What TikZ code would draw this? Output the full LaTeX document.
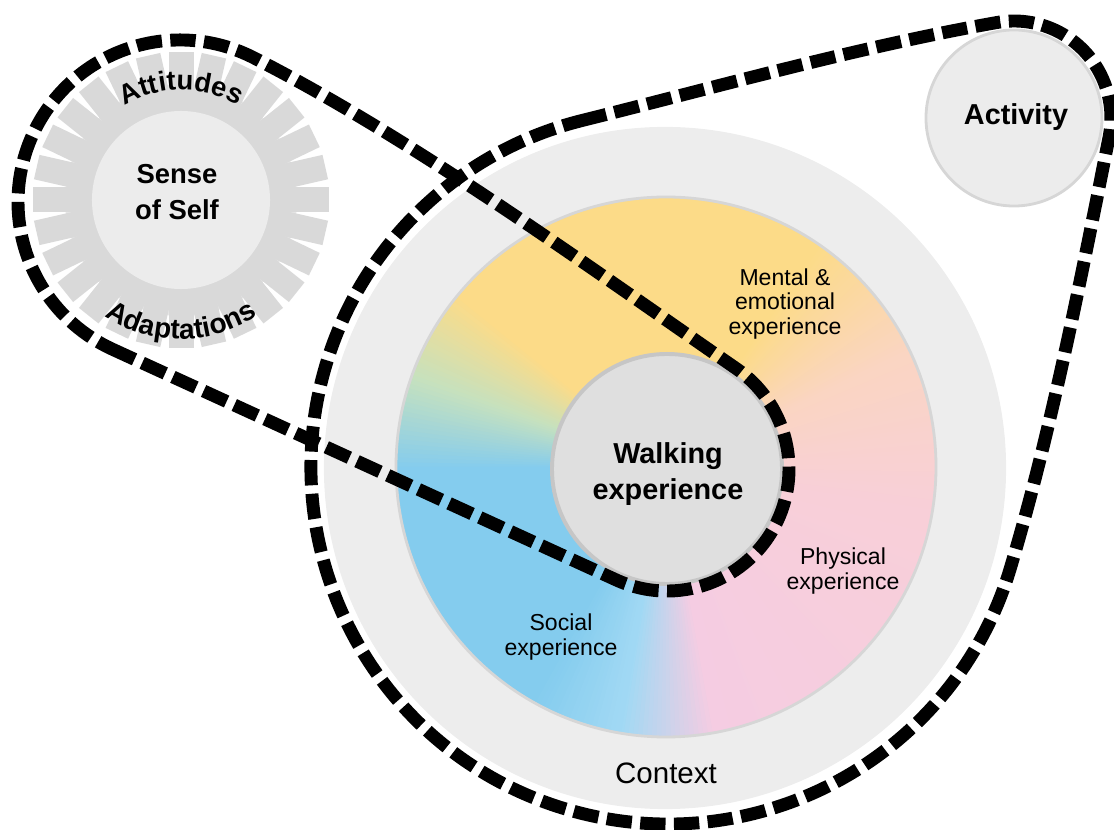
\documentclass[tikz,border=0pt]{standalone}
\usepackage{fontspec}
\setmainfont{Liberation Sans}
\usetikzlibrary{calc,decorations.text}

\definecolor{ctxgray}{HTML}{EDEDED}
\definecolor{rimgray}{HTML}{D6D6D6}
\definecolor{hubgray}{HTML}{DFDFDF}
\definecolor{hubrim}{HTML}{C6C6C6}
\definecolor{seggray}{HTML}{D9D9D9}
\definecolor{gapgray}{HTML}{E6E6E6}
\definecolor{selfgray}{HTML}{ECECEC}
\definecolor{blueA}{HTML}{84CCEE}
\definecolor{blueB}{HTML}{A2D9F4}
\definecolor{pinkA}{HTML}{F5CCE2}
\definecolor{pinkB}{HTML}{F8CFD8}
\definecolor{peachA}{HTML}{FAD5C2}
\definecolor{yellowA}{HTML}{FCDB88}
\definecolor{greenA}{HTML}{C6E1BE}

\tikzset{
  bubble/.style={circle, inner sep=0pt},
  bigtext/.style={align=center, font=\bfseries\fontsize{20.5}{26}\selectfont},
  sublabel/.style={align=center, font=\fontsize{16.4}{17.5}\selectfont},
  dashring/.style={line width=9.2pt, dash pattern=on 18pt off 6pt},
}

\begin{document}
\begin{tikzpicture}[x=0.025cm,y=0.025cm]
	\useasboundingbox (0,0) rectangle (1114,830);
	\clip (0,0) rectangle (1114,830);
	\coordinate (M) at (666,363);
	\coordinate (S) at (181,630);
	\coordinate (S2) at (180,628);
	\coordinate (W2) at (667,361);
	\coordinate (C2) at (668,363);
	\coordinate (A) at (1014,712);
	
	% context
	\node[bubble, fill=ctxgray, minimum size=17.05cm] (context) at (665,362) {};
	
	% coloured ring
	\foreach \a/\b/\ca/\cb in {-100/-80/blueB/pinkA, -80/-10/pinkA/pinkB, -10/25/pinkB/peachA, 25/55/peachA/yellowA, 55/140/yellowA/yellowA, 140/160/yellowA/greenA, 160/180/greenA/blueA, 180/240/blueA/blueA, 240/260/blueA/blueB}{
		\pgfmathtruncatemacro\n{\b-\a-1}
		\foreach \i in {0,...,\n}{
			\pgfmathtruncatemacro\p{100*\i/(\b-\a)}
			\fill[\cb!\p!\ca] (M) -- ++(\a+\i:270) arc[start angle=\a+\i, end angle=\a+\i+1.4, radius=270] -- cycle;
		}
	}
	\draw[rimgray, line width=2pt] (M) circle[radius=270];
	\node[bubble, fill=hubgray, draw=hubrim, line width=2.8pt, minimum size=5.75cm] (walk) at (667,361) {};
	\node[bigtext] (walktext) at (668,356) {Walking\\experience};
	
	% sense of self
	\fill[gapgray] (S) circle[radius=116];
	\begin{scope}[shift={(181,630)}]
		\foreach \k in {0,...,27}
		\fill[seggray, rotate=\k*360/28+90] (80,-12.5) rectangle (148,12.5);
	\end{scope}
	\node[bubble, fill=selfgray, minimum size=4.45cm] (self) at (S) {};
	\node[bigtext, font=\bfseries\fontsize{19.5}{26}\selectfont] (selftext) at (177,638) {Sense\\of Self};
	\path[decorate, decoration={text along path, text align=center, text={|\fontsize{19.5}{19.5}\bfseries\selectfont|Attitudes}}] ($(S)+(124:110)$) arc[start angle=124, end angle=56, radius=110];
	\path[decorate, decoration={text along path, text align=center, text={|\fontsize{20}{20}\bfseries\selectfont|Adaptations}}] ($(S)+(212:139)$) arc[start angle=212, end angle=328, radius=139];
	
	% activity
	\node[bubble, fill=selfgray, draw=rimgray, line width=2pt, minimum size=4.4cm] (act) at (A) {};
	\node[bigtext] (acttext) at (1016,713) {Activity};
	
	% labels
	\node[sublabel] (mental) at (785,526) {Mental \&\\emotional\\experience};
	\node[sublabel] (phys) at (843,259) {Physical\\experience};
	\node[sublabel] (social) at (561,193) {Social\\experience};
	\node[font=\fontsize{21}{21}\selectfont] (ctxlabel) at (666,57) {Context};
	
	% dashed outlines
	\draw[dashring] ($(S2)+(245:162)$) -- ($(W2)+(-115:122)$) arc[start angle=-115, end angle=55.4, radius=122]
		.. controls +(145.4:180) and +(-27:180) .. ($(S2)+(63:162)$) arc[start angle=63, end angle=245, radius=162] -- cycle;
	\draw[dashring] ($(C2)+(104:357)$) .. controls +(14:140) and +(190:140) .. ($(A)+(100:97)$) arc[start angle=100, end angle=-11.3, radius=97]
		.. controls +(258.7:144) and +(73.3:144) .. ($(C2)+(-16.7:357)$) arc[start angle=-16.7, end angle=-256, radius=357] -- cycle;
\end{tikzpicture}
\end{document}
